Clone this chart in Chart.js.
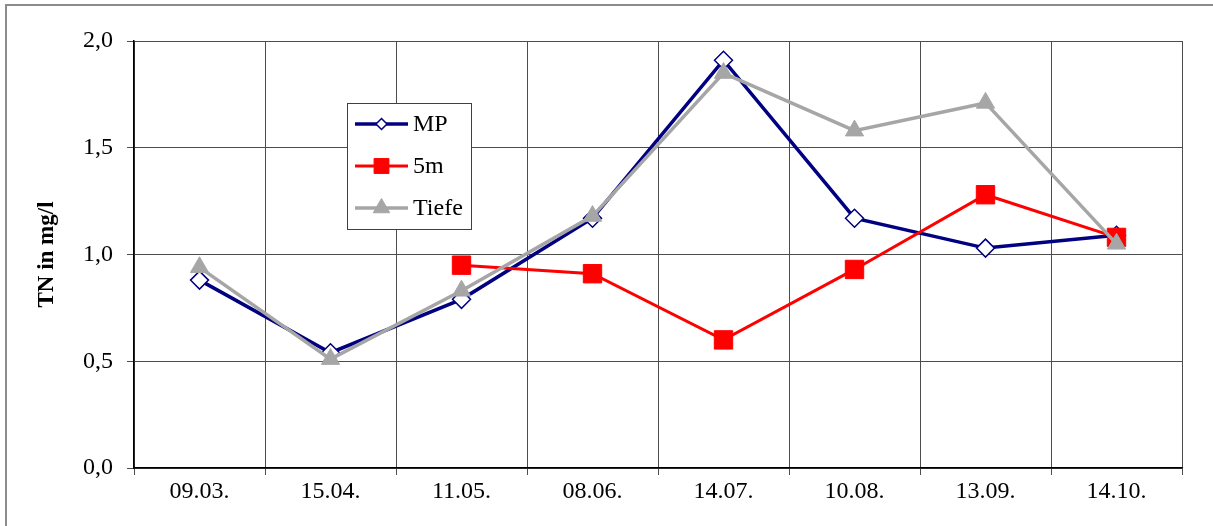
<!DOCTYPE html>
<html>
<head>
<meta charset="utf-8">
<script src="https://cdn.jsdelivr.net/npm/chart.js@4/dist/chart.umd.min.js"></script>
<style>
  html, body { margin: 0; padding: 0; background: #fff; }
  #wrap { width: 1213px; height: 526px; position: relative; }
</style>
</head>
<body>
<div id="wrap"><canvas id="lineChart" width="1213" height="526"></canvas></div>
<script>
// data
var dates = ["09.03.", "15.04.", "11.05.", "08.06.", "14.07.", "10.08.", "13.09.", "14.10."];
var mp    = [0.88, 0.54, 0.79, 1.17, 1.91, 1.17, 1.03, 1.09];
var m5    = [null, null, 0.95, 0.91, 0.60, 0.93, 1.28, 1.08];
var tiefe = [0.94, 0.51, 0.83, 1.18, 1.85, 1.58, 1.71, 1.05];
var yTickLabels = ["0,0", "0,5", "1,0", "1,5", "2,0"];

var serif = "'Liberation Serif', 'Times New Roman', serif";

// grey frame round the whole picture
var framePlugin = {
  id: "frame",
  beforeDraw: function (chart) {
    var ctx = chart.ctx;
    ctx.save();
    ctx.fillStyle = "#fff";
    ctx.fillRect(0, 0, chart.width, chart.height);
    ctx.strokeStyle = "#8c8c8c";
    ctx.lineWidth = 2;
    ctx.strokeRect(6, 5, 1300, 700);
    ctx.restore();
  }
};

// boxed legend inside the plot, like the original
var boxLegend = {
  id: "boxLegend",
  afterDraw: function (chart) {
    var ctx = chart.ctx;
    var x0 = 347, y0 = 103, w = 124, h = 126;
    ctx.save();
    ctx.fillStyle = "#fff";
    ctx.fillRect(x0, y0, w, h);
    ctx.strokeStyle = "#404040";
    ctx.lineWidth = 1;
    ctx.strokeRect(x0 + 0.5, y0 + 0.5, w, h);
    var sizes = [5.5, 10.5, 9.5];
    chart.data.datasets.forEach(function (ds, i) {
      var yy = 124 + i * 42;
      ctx.strokeStyle = ds.borderColor;
      ctx.lineWidth = ds.borderWidth;
      ctx.beginPath();
      ctx.moveTo(355, yy);
      ctx.lineTo(408, yy);
      ctx.stroke();
      ctx.fillStyle = ds.pointBackgroundColor;
      ctx.strokeStyle = ds.pointBorderColor;
      ctx.lineWidth = ds.pointBorderWidth;
      Chart.helpers.drawPoint(ctx, { pointStyle: ds.pointStyle, rotation: 0, radius: sizes[i], borderWidth: ds.pointBorderWidth }, 381.5, yy);
      ctx.fillStyle = "#000";
      ctx.font = "24px " + serif;
      ctx.textBaseline = "middle";
      ctx.textAlign = "left";
      ctx.fillText(ds.label, 413, yy + 1);
    });
    ctx.restore();
  }
};

var ctxL = document.getElementById("lineChart").getContext("2d");
var myLineChart = new Chart(ctxL, {
  type: "line",
  data: {
    labels: dates,
    datasets: [
      {
        label: "MP",
        data: mp,
        borderColor: "#000080",
        borderWidth: 3.5,
        pointStyle: "rectRot",
        pointRadius: 9,
        pointBackgroundColor: "#fff",
        pointBorderColor: "#000080",
        pointBorderWidth: 1.5,
        order: 3
      },
      {
        label: "5m",
        data: m5,
        borderColor: "#ff0000",
        borderWidth: 3,
        pointStyle: "rect",
        pointRadius: 13,
        pointBackgroundColor: "#ff0000",
        pointBorderColor: "#ff0000",
        pointBorderWidth: 1,
        order: 2
      },
      {
        label: "Tiefe",
        data: tiefe,
        borderColor: "#a6a6a6",
        borderWidth: 3.5,
        pointStyle: "triangle",
        pointRadius: 10.5,
        pointBackgroundColor: "#a6a6a6",
        pointBorderColor: "#a6a6a6",
        pointBorderWidth: 1,
        order: 1
      }
    ]
  },
  options: {
    responsive: false,
    animation: false,
    layout: { padding: { left: 0, right: 31, top: 41, bottom: 0 } },
    plugins: {
      legend: { display: false },
      tooltip: { enabled: false }
    },
    scales: {
      x: {
        offset: true,
        grid: { offset: true, color: "#4d4d4d", lineWidth: 1, tickLength: 7 },
        border: { color: "#000", width: 1.5 },
        ticks: { color: "#000", font: { family: serif, size: 24 }, padding: 2, maxRotation: 0 },
        afterFit: function (scale) { scale.height = 58; }
      },
      y: {
        min: 0,
        max: 2,
        grid: { color: "#4d4d4d", lineWidth: 1, tickLength: 7 },
        border: { color: "#000", width: 1.5 },
        ticks: {
          stepSize: 0.5,
          color: "#000",
          font: { family: serif, size: 24 },
          padding: 14,
          callback: function (v, i) { return yTickLabels[i]; }
        },
        title: {
          display: true,
          text: "TN in mg/l",
          color: "#000",
          font: { family: serif, size: 23, weight: "bold" },
          padding: { top: 33, bottom: 0 }
        },
        afterFit: function (scale) { scale.width = 134; }
      }
    }
  },
  plugins: [framePlugin, boxLegend]
});
</script>
</body>
</html>
